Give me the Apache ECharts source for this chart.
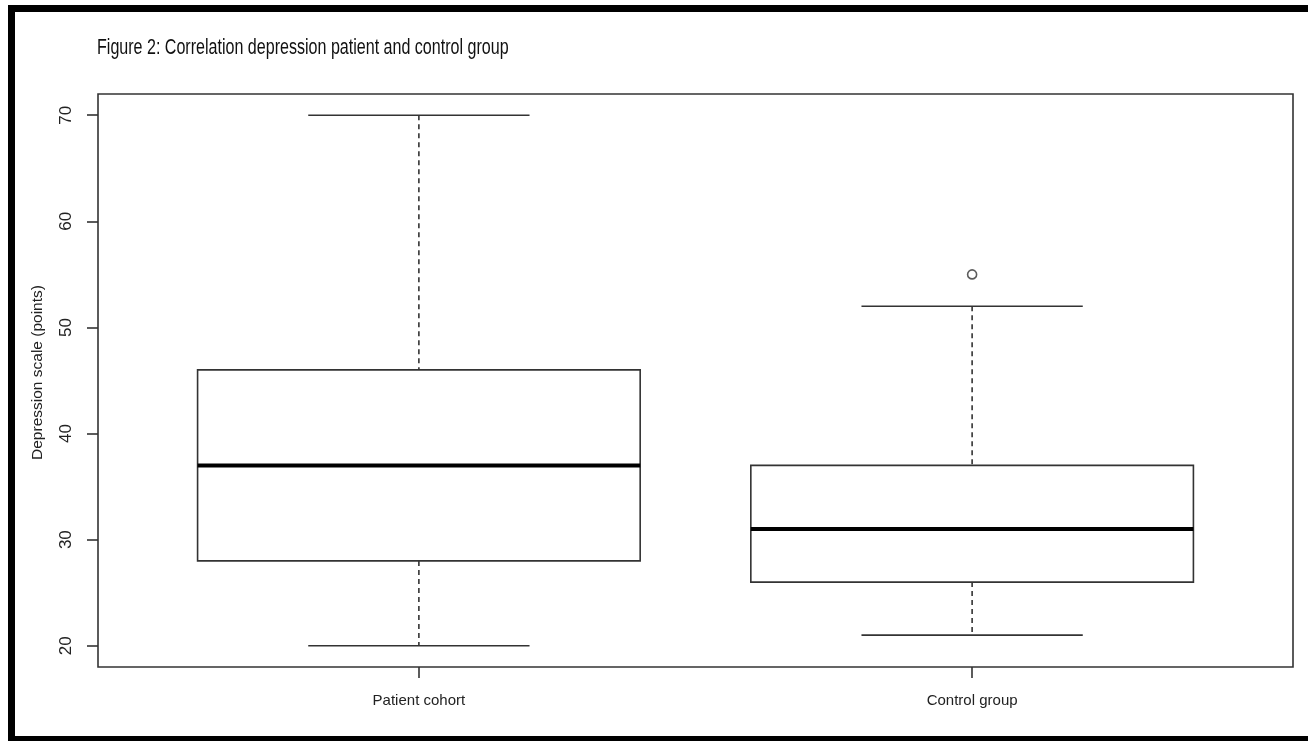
<!DOCTYPE html>
<html>
<head>
<meta charset="utf-8">
<title>Depression scale box plot</title>
<script src="https://cdn.jsdelivr.net/npm/echarts@6/dist/echarts.min.js"></script>
<style>
  html, body { margin: 0; padding: 0; background: #fff; }
  #chart { width: 1308px; height: 741px; }
</style>
</head>
<body>
<div id="chart"></div>
<script>
// Groups and their five-number summaries (depression scale, points)
const categories = ['Patient cohort', 'Control group'];
const whiskerLow = [20, 21];
const quartile1 = [28, 26];
const medians = [37, 31];
const quartile3 = [46, 37];
const whiskerHigh = [70, 52];
const outliers = [[], [55]];
const yTicks = [20, 30, 40, 50, 60, 70];
const chartTitle = 'Figure 2: Correlation depression patient and control group';

const FONT = '"Liberation Sans", Arial, sans-serif';
const INK = '#333';
const BOX_HALF = 0.4;   // half box width in x units
const CAP_HALF = 0.2;   // half whisker cap width

const boxData = categories.map((c, i) => [i + 1, whiskerLow[i], quartile1[i], medians[i], quartile3[i], whiskerHigh[i]]);
const outlierData = [];
outliers.forEach((list, i) => list.forEach(v => outlierData.push([i + 1, v])));

function renderBox(params, api) {
  const x = api.value(0);
  const lo = api.value(1), q1 = api.value(2), md = api.value(3), q3 = api.value(4), hi = api.value(5);
  const pLeftQ3 = api.coord([x - BOX_HALF, q3]);
  const pRightQ1 = api.coord([x + BOX_HALF, q1]);
  const pMidLeft = api.coord([x - BOX_HALF, md]);
  const pMidRight = api.coord([x + BOX_HALF, md]);
  const pHi = api.coord([x, hi]);
  const pLo = api.coord([x, lo]);
  const pQ3 = api.coord([x, q3]);
  const pQ1 = api.coord([x, q1]);
  const capHiL = api.coord([x - CAP_HALF, hi]);
  const capHiR = api.coord([x + CAP_HALF, hi]);
  const capLoL = api.coord([x - CAP_HALF, lo]);
  const capLoR = api.coord([x + CAP_HALF, lo]);
  const solid = { stroke: INK, lineWidth: 1.6, fill: null };
  const dashed = { stroke: INK, lineWidth: 1.6, lineDash: [5, 4] };
  return {
    type: 'group',
    children: [
      { type: 'line', shape: { x1: pHi[0], y1: pHi[1], x2: pQ3[0], y2: pQ3[1] }, style: dashed },
      { type: 'line', shape: { x1: pQ1[0], y1: pQ1[1], x2: pLo[0], y2: pLo[1] }, style: dashed },
      { type: 'line', shape: { x1: capHiL[0], y1: capHiL[1], x2: capHiR[0], y2: capHiR[1] }, style: solid },
      { type: 'line', shape: { x1: capLoL[0], y1: capLoL[1], x2: capLoR[0], y2: capLoR[1] }, style: solid },
      { type: 'rect', shape: { x: pLeftQ3[0], y: pLeftQ3[1], width: pRightQ1[0] - pLeftQ3[0], height: pRightQ1[1] - pLeftQ3[1] }, style: { stroke: INK, lineWidth: 1.6, fill: '#fff' } },
      { type: 'line', shape: { x1: pMidLeft[0], y1: pMidLeft[1], x2: pMidRight[0], y2: pMidRight[1] }, style: { stroke: '#000', lineWidth: 4 } }
    ]
  };
}

const chart = echarts.init(document.getElementById('chart'), null, { renderer: 'canvas' });
chart.setOption({
  animation: false,
  backgroundColor: '#fff',
  grid: {
    left: 98, right: 15, top: 94, bottom: 74,
    show: true, borderColor: INK, borderWidth: 1.6, backgroundColor: 'transparent'
  },
  xAxis: {
    type: 'value', min: 0.42, max: 2.58,
    axisLine: { show: false },
    splitLine: { show: false },
    axisTick: { show: true, length: 11, customValues: [1, 2], lineStyle: { color: INK, width: 1.6 } },
    axisLabel: {
      customValues: [1, 2], margin: 26,
      formatter: v => categories[Math.round(v) - 1] || '',
      fontFamily: FONT, fontSize: 15, color: '#222'
    }
  },
  yAxis: {
    type: 'value', min: 18, max: 72,
    name: 'Depression scale (points)', nameLocation: 'middle', nameRotate: 90, nameGap: 52,
    nameTextStyle: { fontFamily: FONT, fontSize: 15.5, color: '#222', padding: [0, 0, 0, 16] },
    axisLine: { show: false },
    splitLine: { show: false },
    axisTick: { show: true, length: 11, customValues: yTicks, lineStyle: { color: INK, width: 1.6 } },
    axisLabel: { customValues: yTicks, rotate: 90, margin: 23, fontFamily: FONT, fontSize: 17, color: '#222' }
  },
  series: [
    {
      type: 'custom', renderItem: renderBox, data: boxData,
      encode: { x: 0, y: [1, 2, 3, 4, 5] }, clip: false
    },
    {
      type: 'scatter', data: outlierData, symbol: 'circle', symbolSize: 9,
      itemStyle: { color: '#fff', borderColor: INK, borderWidth: 1.6 }
    }
  ],
  graphic: [
    // condensed heading above the plot
    {
      type: 'text', x: 97, y: 37, scaleX: 0.73,
      style: { text: chartTitle, font: '22px "Liberation Sans", Arial, sans-serif', fill: '#111' }
    },
    // page frame: left, top and bottom rules
    { type: 'rect', shape: { x: 8, y: 5, width: 7, height: 736 }, style: { fill: '#000' } },
    { type: 'rect', shape: { x: 8, y: 5, width: 1300, height: 7 }, style: { fill: '#000' } },
    { type: 'rect', shape: { x: 8, y: 736, width: 1300, height: 5 }, style: { fill: '#000' } }
  ]
});
</script>
</body>
</html>
